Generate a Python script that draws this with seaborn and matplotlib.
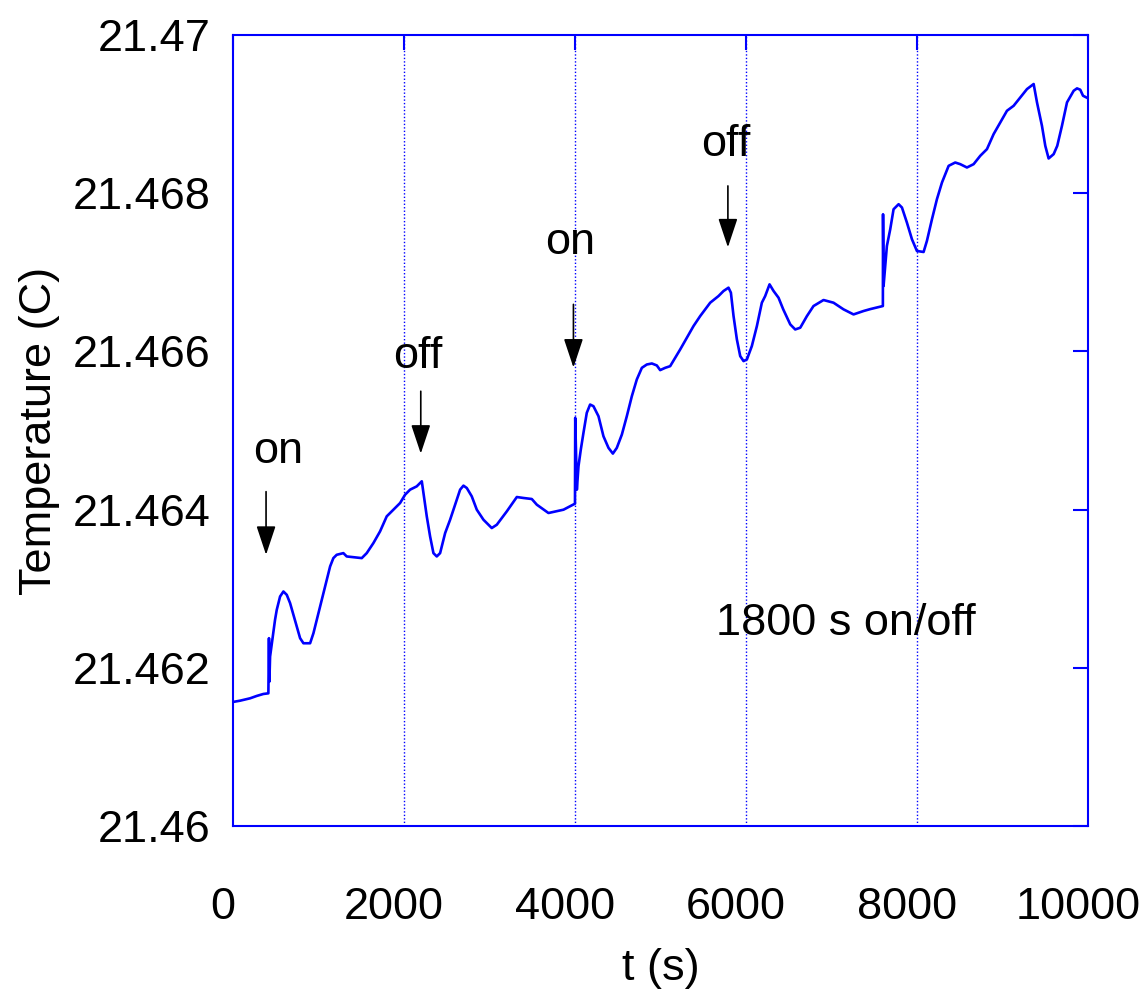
import numpy as np
import pandas as pd
import matplotlib
matplotlib.use("Agg")
import matplotlib.pyplot as plt
import matplotlib.transforms as mtransforms
import seaborn as sns

# Time (s) and temperature (C) of the heater on/off test
t_s = [
    0, 82, 199, 277, 355, 413, 420, 425, 433, 491,
    511, 550, 589, 628, 667, 706, 745, 784, 823, 901,
    940, 979, 1018, 1057, 1096, 1135, 1173, 1212, 1290, 1329,
    1505, 1563, 1641, 1719, 1797, 1875, 1953, 2012, 2070, 2148,
    2207, 2226, 2265, 2304, 2343, 2382, 2421, 2480, 2538, 2616,
    2655, 2694, 2733, 2791, 2850, 2928, 3025, 3084, 3201, 3318,
    3396, 3493, 3552, 3688, 3864, 3998, 4001, 4020, 4039, 4066,
    4097, 4136, 4175, 4214, 4273, 4331, 4390, 4441, 4487, 4546,
    4604, 4663, 4721, 4780, 4838, 4897, 4955, 4994, 5053, 5111,
    5170, 5228, 5306, 5384, 5462, 5579, 5676, 5735, 5793, 5821,
    5852, 5891, 5930, 5969, 6008, 6066, 6125, 6183, 6222, 6273,
    6320, 6378, 6433, 6515, 6573, 6632, 6710, 6787, 6904, 7021,
    7138, 7255, 7372, 7450, 7567, 7598, 7600, 7606, 7626, 7645,
    7684, 7723, 7782, 7821, 7879, 7938, 7996, 8074, 8113, 8172,
    8230, 8289, 8367, 8444, 8503, 8581, 8659, 8737, 8815, 8893,
    8971, 9049, 9127, 9205, 9283, 9361, 9400, 9458, 9497, 9536,
    9595, 9637, 9692, 9751, 9829, 9868, 9906, 9938, 10000,
]
temp_c = [
    21.461570, 21.461586, 21.461616, 21.461646, 21.461671, 21.461679, 21.462376, 21.461827, 21.462143, 21.462608,
    21.462734, 21.462903, 21.462966, 21.462924, 21.462819, 21.462671, 21.462523, 21.462376, 21.462312, 21.462312,
    21.462439, 21.462608, 21.462776, 21.462945, 21.463114, 21.463283, 21.463388, 21.463430, 21.463451, 21.463409,
    21.463388, 21.463451, 21.463578, 21.463726, 21.463916, 21.464000, 21.464084, 21.464190, 21.464253, 21.464295,
    21.464359, 21.464211, 21.463916, 21.463662, 21.463451, 21.463409, 21.463451, 21.463705, 21.463873, 21.464127,
    21.464253, 21.464304, 21.464274, 21.464169, 21.464000, 21.463873, 21.463768, 21.463810, 21.463979, 21.464160,
    21.464148, 21.464135, 21.464063, 21.463958, 21.464000, 21.464076, 21.465160, 21.464253, 21.464549, 21.464759,
    21.464970, 21.465224, 21.465329, 21.465308, 21.465181, 21.464928, 21.464781, 21.464709, 21.464781, 21.464949,
    21.465181, 21.465435, 21.465646, 21.465793, 21.465835, 21.465848, 21.465823, 21.465764, 21.465793, 21.465814,
    21.465920, 21.466025, 21.466173, 21.466321, 21.466447, 21.466616, 21.466700, 21.466764, 21.466806, 21.466743,
    21.466447, 21.466152, 21.465941, 21.465878, 21.465899, 21.466068, 21.466321, 21.466616, 21.466700, 21.466848,
    21.466764, 21.466679, 21.466532, 21.466342, 21.466278, 21.466300, 21.466447, 21.466574, 21.466650, 21.466616,
    21.466532, 21.466468, 21.466511, 21.466535, 21.466565, 21.466574, 21.467734, 21.466827, 21.467080, 21.467333,
    21.467544, 21.467797, 21.467861, 21.467819, 21.467629, 21.467418, 21.467270, 21.467257, 21.467397, 21.467671,
    21.467924, 21.468135, 21.468346, 21.468388, 21.468367, 21.468325, 21.468367, 21.468473, 21.468557, 21.468747,
    21.468895, 21.469042, 21.469105, 21.469211, 21.469316, 21.469380, 21.469148, 21.468852, 21.468599, 21.468439,
    21.468494, 21.468599, 21.468852, 21.469148, 21.469295, 21.469325, 21.469308, 21.469232, 21.469198,
]

# Switching events: label, arrow x, arrow tail y, arrow tip y, text x, text y
event_labels = ["on", "off", "on", "off"]
event_t = [386, 2195, 3980, 5786]
arrow_tail = [21.464228, 21.465497, 21.466595, 21.468092]
arrow_tip = [21.463430, 21.464709, 21.465797, 21.467316]
label_t = [526, 2158, 3936, 5766]
label_y = [21.464595, 21.465797, 21.467228, 21.468472]

x_ticks = [0, 2000, 4000, 6000, 8000, 10000]
x_tick_labels = ["0", "2000", "4000", "6000", "8000", "10000"]
y_ticks = [21.46, 21.462, 21.464, 21.466, 21.468, 21.47]
y_tick_labels = ["21.46", "21.462", "21.464", "21.466", "21.468", "21.47"]

sns.set_style("white")
plt.rcParams["font.family"] = ["Liberation Sans", "DejaVu Sans"]

BLUE = "#0000ff"
FS = 32.5

df = pd.DataFrame({"t": t_s, "T": temp_c})

fig = plt.figure(figsize=(11.48, 9.99), dpi=100)
ax = fig.add_axes([0.203, 0.173, 0.745, 0.792])

sns.lineplot(data=df, x="t", y="T", ax=ax, color=BLUE, linewidth=1.9,
             estimator=None, sort=False)

ax.set_xlim(0, 10000)
ax.set_ylim(21.46, 21.47)
ax.set_xticks(x_ticks)
ax.set_xticklabels(x_tick_labels)
ax.set_yticks(y_ticks)
ax.set_yticklabels(y_tick_labels)

ax.grid(False)
for xv in x_ticks[1:-1]:
    ax.axvline(xv, color=BLUE, linestyle=(0, (1, 1.5)), linewidth=1.0, zorder=0)

for sp in ax.spines.values():
    sp.set_visible(True)
    sp.set_color(BLUE)
    sp.set_linewidth(1.5)

ax.tick_params(axis="both", which="major", direction="in", length=11,
               width=1.5, color=BLUE, labelsize=FS, labelcolor="black",
               top=True, right=True)
ax.tick_params(axis="x", pad=44)
ax.tick_params(axis="y", pad=16)

# x tick labels sit slightly left of their ticks
shift = mtransforms.ScaledTranslation(-0.10, 0, fig.dpi_scale_trans)
for lab in ax.get_xticklabels():
    lab.set_transform(lab.get_transform() + shift)

ax.set_xlabel("t (s)", fontsize=FS, labelpad=14, color="black")
ax.set_ylabel("Temperature (C)", fontsize=FS, labelpad=9, color="black")

for lab, xa, y0, y1, xt, yt in zip(event_labels, event_t, arrow_tail, arrow_tip,
                                   label_t, label_y):
    ax.annotate("", xy=(xa, y1), xytext=(xa, y0),
                arrowprops=dict(arrowstyle="-|>,head_length=0.9,head_width=0.3",
                                mutation_scale=20, color="black", lw=1.2,
                                shrinkA=0, shrinkB=0))
    ax.text(xt, yt, lab, fontsize=FS, ha="center", va="baseline", color="black")

ax.text(7165, 21.462418, "1800 s on/off", fontsize=FS, ha="center",
        va="baseline", color="black")

fig.savefig("out.png", dpi=100, facecolor="white")
